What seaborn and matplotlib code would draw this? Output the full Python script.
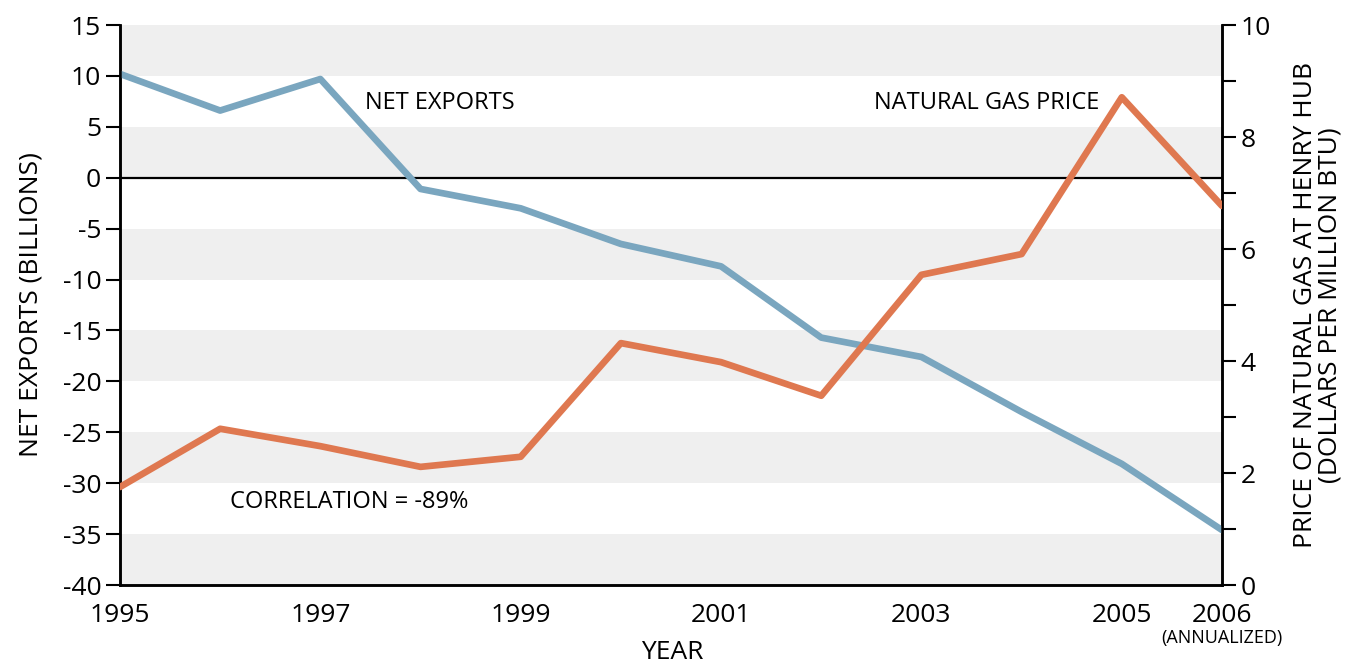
import seaborn as sns
import matplotlib.pyplot as plt
import pandas as pd
import numpy as np
from matplotlib.ticker import MultipleLocator

# data
years = [1995, 1996, 1997, 1998, 1999, 2000, 2001, 2002, 2003, 2004, 2005, 2006]
net_exports = [10.2, 6.6, 9.7, -1.1, -3.0, -6.5, -8.7, -15.7, -17.6, -23.0, -28.1, -34.6]
gas_price = [1.75, 2.79, 2.48, 2.11, 2.29, 4.32, 3.98, 3.38, 5.54, 5.91, 8.71, 6.77]
xtick_years = [1995, 1997, 1999, 2001, 2003, 2005, 2006]

df = pd.DataFrame({'Year': years, 'Net exports': net_exports, 'Gas price': gas_price})

sns.set_style('white')
plt.rcParams['font.family'] = ['Open Sans', 'DejaVu Sans']
plt.rcParams['axes.unicode_minus'] = False
plt.rcParams['text.color'] = 'black'
plt.rcParams['axes.labelcolor'] = 'black'

blue = '#7aa6bf'
orange = '#df7850'
fs = 19

fig = plt.figure(figsize=(13.54, 6.66), dpi=100)
ax = fig.add_axes([0.0886, 0.1216, 0.8139, 0.8408])

# alternating bands
for lo in np.arange(-40, 15, 10):
    ax.axhspan(lo, lo + 5, color='#efefef', lw=0, zorder=0)
ax.axhline(0, color='black', lw=1.6, zorder=1)

sns.lineplot(data=df, x='Year', y='Net exports', ax=ax, color=blue, lw=4.8, zorder=3)
ax.set_xlim(1995, 2006)
ax.set_ylim(-40, 15)
ax.yaxis.set_major_locator(MultipleLocator(5))
ax.set_xticks(range(1995, 2007))
ax.set_xticklabels([str(y) if y in xtick_years else '' for y in range(1995, 2007)])
ax.set_ylabel('NET EXPORTS (BILLIONS)', fontsize=fs, labelpad=14)
ax.set_xlabel('')
ax.tick_params(axis='both', direction='out', length=10, width=1.5, labelsize=fs, colors='black')
ax.tick_params(axis='x', pad=3)

ax2 = ax.twinx()
sns.lineplot(data=df, x='Year', y='Gas price', ax=ax2, color=orange, lw=4.8, zorder=3)
ax2.set_ylim(0, 10)
ax2.yaxis.set_major_locator(MultipleLocator(2))
ax2.yaxis.set_minor_locator(MultipleLocator(1))
ax2.set_ylabel('PRICE OF NATURAL GAS AT HENRY HUB\n(DOLLARS PER MILLION BTU)',
               fontsize=fs, labelpad=16, linespacing=0.95)
ax2.tick_params(axis='y', which='both', direction='out', length=10, width=1.5,
                labelsize=fs, colors='black')
ax2.set_xlim(1995, 2006)

for a in (ax, ax2):
    a.spines['top'].set_visible(False)
    for s in ('left', 'bottom', 'right'):
        a.spines[s].set_color('black')
        a.spines[s].set_linewidth(1.8)

ax.text(1996.1, -31.8, 'CORRELATION = -89%', fontsize=17, va='center', ha='left')
ax.text(1997.45, 7.3, 'NET EXPORTS', fontsize=17, va='center', ha='left')
ax.text(2004.77, 7.3, 'NATURAL GAS PRICE', fontsize=17, va='center', ha='right')
ax.text(2006, -45.2, '(ANNUALIZED)', fontsize=13, va='center', ha='center')
fig.text(0.4963, 0.001, 'YEAR', fontsize=fs, ha='center', va='bottom')

fig.savefig('out.png', dpi=100)
